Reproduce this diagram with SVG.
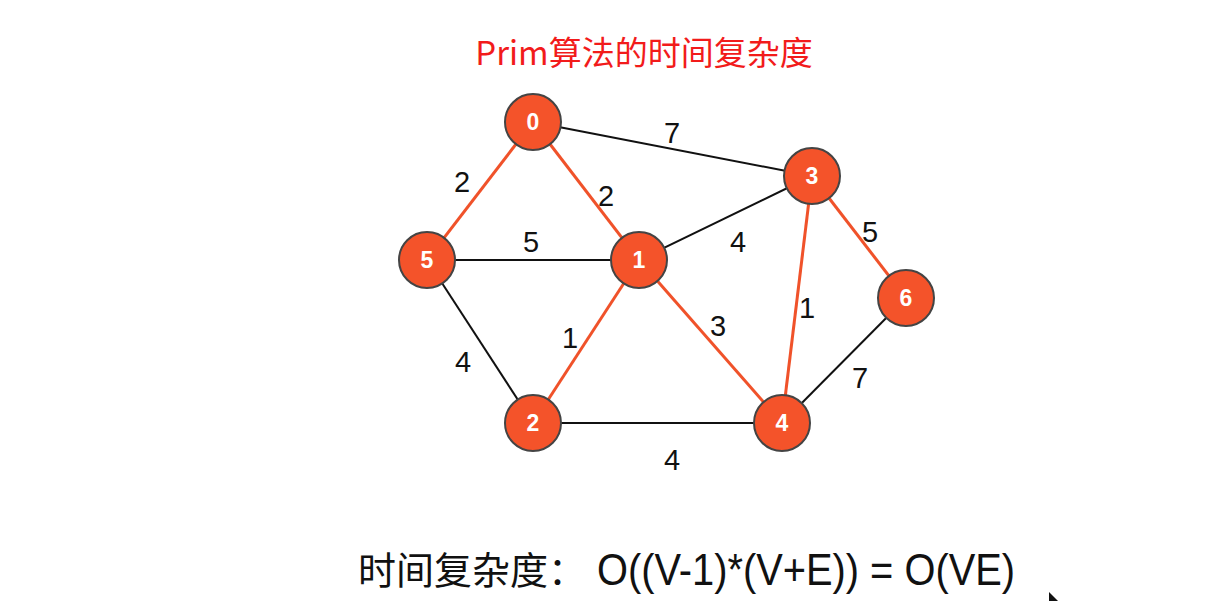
<svg xmlns="http://www.w3.org/2000/svg" width="1228" height="601" viewBox="0 0 1228 601">
<style>
.node circle{fill:#F4532A;stroke:#444;stroke-width:2}
.node text{fill:#fff;font-family:"Liberation Sans",Arial,sans-serif;font-weight:bold;font-size:23px;text-anchor:middle;dominant-baseline:central}
.e{stroke:#111;stroke-width:2}
.t{stroke:#F0522A;stroke-width:3}
.lbl{font-family:"Liberation Sans",Arial,sans-serif;font-size:29px;fill:#111;text-anchor:middle;dominant-baseline:central}
</style>
<rect width="1228" height="601" fill="#fff"/>
<text x="644" y="65" font-family="'Noto Sans CJK SC','Liberation Sans',sans-serif" font-size="33" fill="#F21B1B" text-anchor="middle">Prim算法的时间复杂度</text>
<g id="connectors">
<line class="e" x1="533" y1="122" x2="812" y2="176"/>
<line class="e" x1="427" y1="260" x2="639" y2="260"/>
<line class="e" x1="639" y1="260" x2="812" y2="176"/>
<line class="e" x1="427" y1="260" x2="533" y2="423"/>
<line class="e" x1="533" y1="423" x2="782" y2="423"/>
<line class="e" x1="782" y1="423" x2="906" y2="298"/>
<line class="t" x1="533" y1="122" x2="427" y2="260"/>
<line class="t" x1="533" y1="122" x2="639" y2="260"/>
<line class="t" x1="639" y1="260" x2="533" y2="423"/>
<line class="t" x1="639" y1="260" x2="782" y2="423"/>
<line class="t" x1="812" y1="176" x2="782" y2="423"/>
<line class="t" x1="812" y1="176" x2="906" y2="298"/>
<text class="lbl" x="672" y="133">7</text>
<text class="lbl" x="462" y="182">2</text>
<text class="lbl" x="606" y="196">2</text>
<text class="lbl" x="531" y="242">5</text>
<text class="lbl" x="738" y="242">4</text>
<text class="lbl" x="870" y="232">5</text>
<text class="lbl" x="807" y="308">1</text>
<text class="lbl" x="718" y="326">3</text>
<text class="lbl" x="570" y="338">1</text>
<text class="lbl" x="463" y="362">4</text>
<text class="lbl" x="860" y="378">7</text>
<text class="lbl" x="672" y="460">4</text>
</g>
<g id="n0" class="node"><circle cx="533" cy="122" r="28"/><text x="533" y="122">0</text></g>
<g id="n1" class="node"><circle cx="639" cy="260" r="28"/><text x="639" y="260">1</text></g>
<g id="n2" class="node"><circle cx="533" cy="423" r="28"/><text x="533" y="423">2</text></g>
<g id="n3" class="node"><circle cx="812" cy="176" r="28"/><text x="812" y="176">3</text></g>
<g id="n4" class="node"><circle cx="782" cy="423" r="28"/><text x="782" y="423">4</text></g>
<g id="n5" class="node"><circle cx="427" cy="260" r="28"/><text x="427" y="260">5</text></g>
<g id="n6" class="node"><circle cx="906" cy="298" r="28"/><text x="906" y="298">6</text></g>
<text x="358" y="584" font-family="'Noto Sans CJK SC','Liberation Sans',sans-serif" font-size="38" fill="#111">时间复杂度：</text>
<text x="597" y="585" font-family="'Liberation Sans',Arial,sans-serif" font-size="45" fill="#111" textLength="418" lengthAdjust="spacingAndGlyphs">O((V-1)*(V+E)) = O(VE)</text>
<polygon points="1049,592 1049,601 1058,601" fill="#111"/>
</svg>
